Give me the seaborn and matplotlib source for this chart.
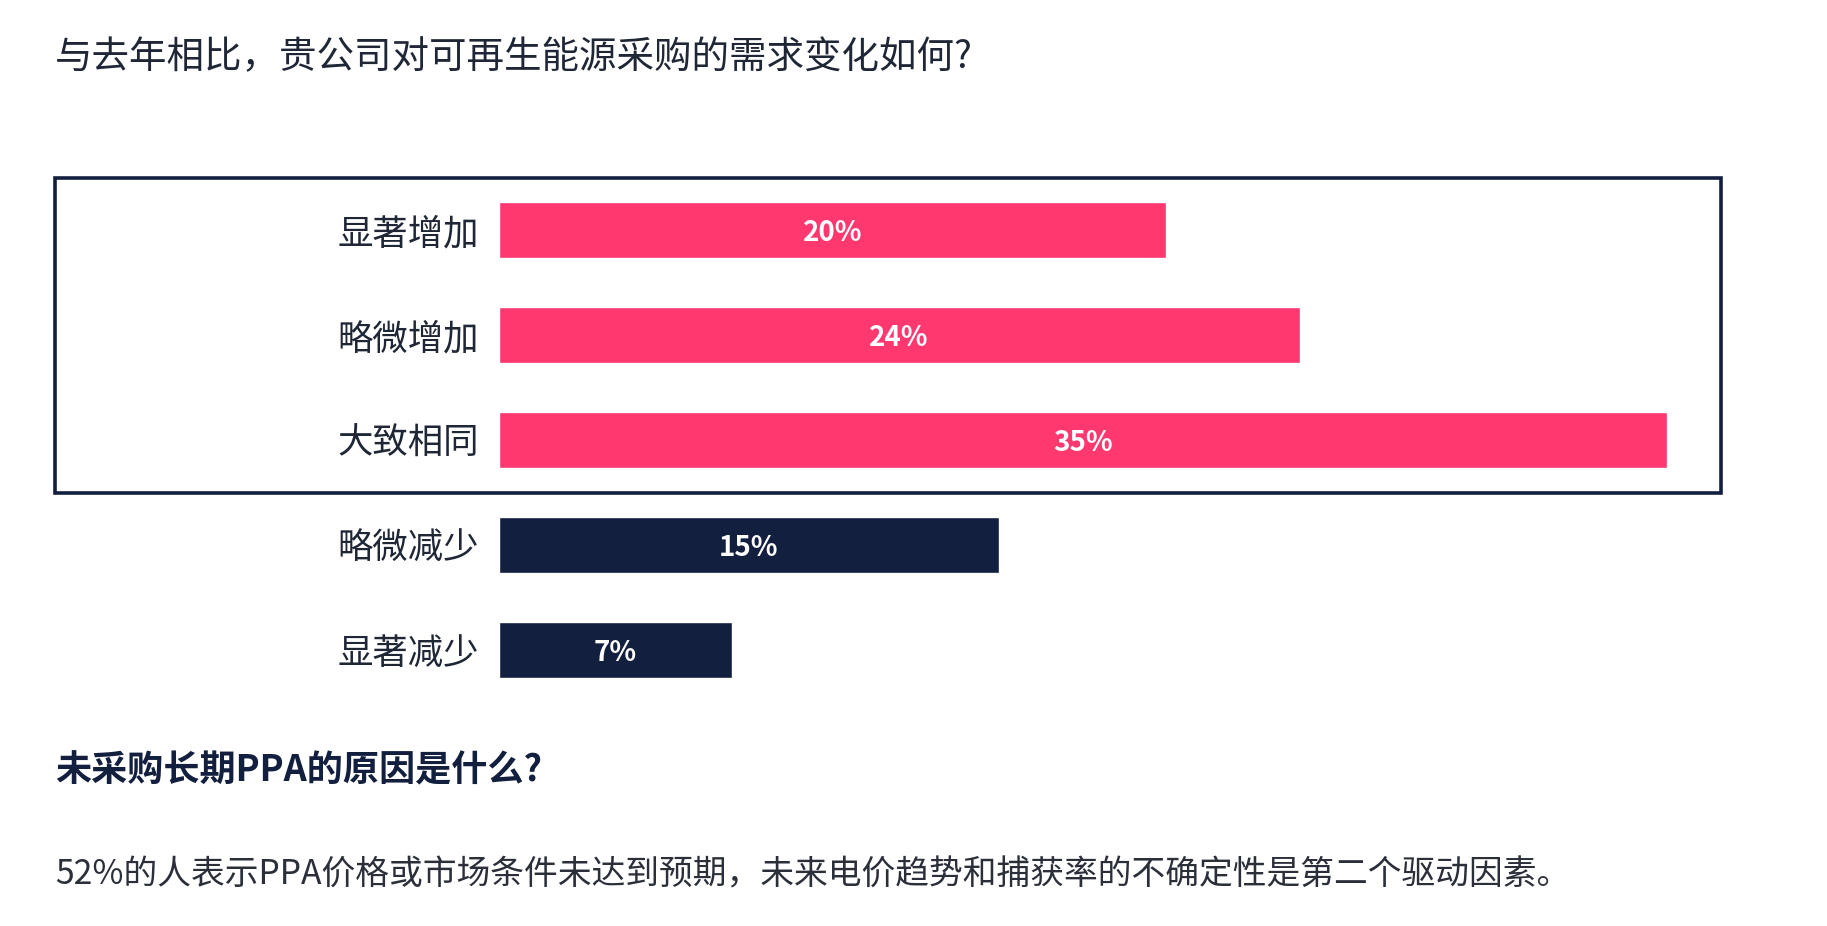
import matplotlib
matplotlib.use("Agg")
import matplotlib.pyplot as plt
import seaborn as sns
from matplotlib.patches import Rectangle

categories = ["显著增加", "略微增加", "大致相同", "略微减少", "显著减少"]
values = [20, 24, 35, 15, 7]
value_labels = ["20%", "24%", "35%", "15%", "7%"]
bar_colors = ["#FF3870", "#FF3870", "#FF3870", "#131F3E", "#131F3E"]

title = "与去年相比，贵公司对可再生能源采购的需求变化如何?"
subtitle = "未采购长期PPA的原因是什么?"
body = "52%的人表示PPA价格或市场条件未达到预期，未来电价趋势和捕获率的不确定性是第二个驱动因素。"

sns.set_theme(style="white")
plt.rcParams["font.family"] = ["Noto Sans CJK SC", "DejaVu Sans"]

W, H = 1827, 926
fig = plt.figure(figsize=(W / 100, H / 100), dpi=100)
fig.patch.set_facecolor("white")

left_px, right_px = 498.6, 1667.0
top_px, bot_px = 177.5, 702.5
ax = fig.add_axes([left_px / W, 1 - bot_px / H, (right_px - left_px) / W, (bot_px - top_px) / H])

sns.barplot(x=values, y=categories, hue=categories, palette=bar_colors,
            legend=False, width=0.53, orient="h", ax=ax, saturation=1)
ax.set_xlim(0, 35)
ax.set_ylim(4.5, -0.5)
for s in ax.spines.values():
    s.set_visible(False)
ax.set_xticks([])
ax.set_xlabel("")
ax.set_ylabel("")
ax.tick_params(axis="y", length=0, pad=14)
for t in ax.get_yticklabels():
    t.set_fontsize(25.5)
    t.set_color("#1f2636")
    t.set_fontweight("light")

for cont, lab in zip(ax.containers, value_labels):
    anns = ax.bar_label(cont, labels=[lab], label_type="center", color="white",
                        fontsize=20, fontweight="bold")
    for a in anns:
        a.set_va("center_baseline")

# highlight frame around the increase / same group
fig.patches.append(Rectangle((55 / W, 1 - 493 / H), (1721 - 55) / W, (493 - 178) / H,
                             transform=fig.transFigure, fill=False,
                             edgecolor="#131F3E", linewidth=2.6))

fig.text(55 / W, 1 - 58 / H, title, fontsize=27, color="#1f2636",
         fontweight="light", va="center", ha="left")
fig.text(55 / W, 1 - 771 / H, subtitle, fontsize=26, color="#131F3E",
         fontweight="bold", va="center", ha="left")
fig.text(55 / W, 1 - 875 / H, body, fontsize=24.3, color="#2a2f3a",
         fontweight="light", va="center", ha="left")

fig.savefig("out.png", dpi=100, facecolor="white")
